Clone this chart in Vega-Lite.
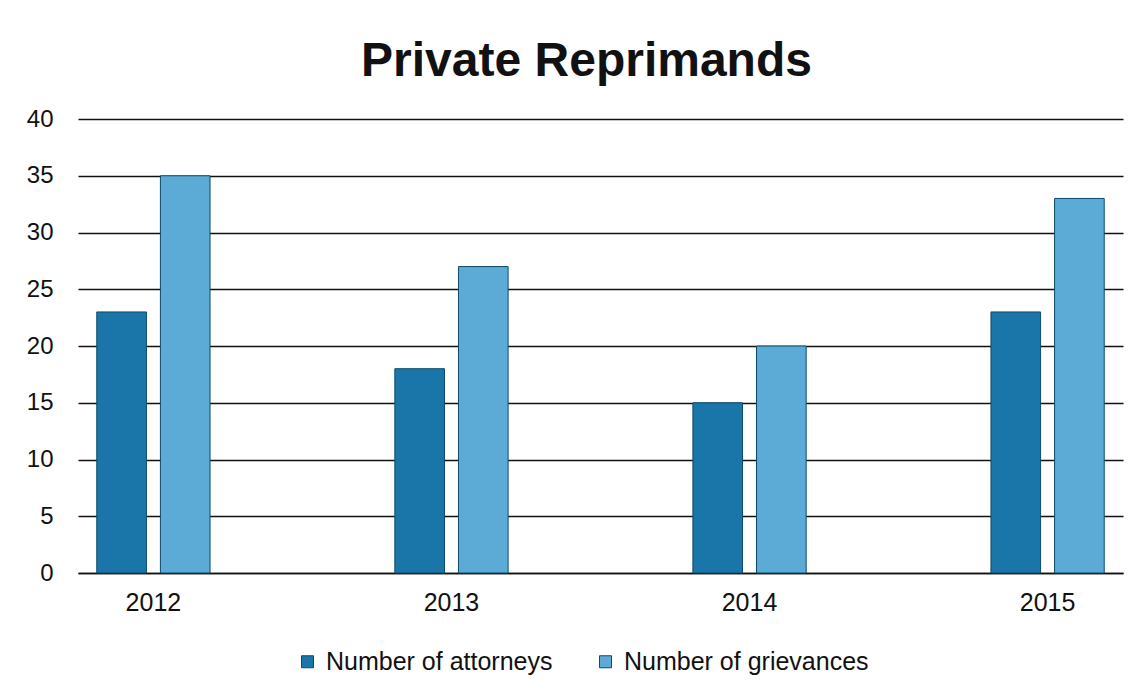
{
  "$schema": "https://vega.github.io/schema/vega-lite/v6.json",
  "width": 1045,
  "height": 454,
  "autosize": {"type": "none"},
  "padding": {"left": 78, "top": 119, "right": 20, "bottom": 123},
  "background": "white",
  "title": {
    "text": "Private Reprimands",
    "font": "Liberation Sans",
    "fontSize": 48,
    "fontWeight": "bold",
    "color": "#111111",
    "anchor": "middle",
    "offset": 21,
    "dx": -14
  },
  "data": {
    "values": [
      {"year": "2012", "series": "Number of attorneys", "value": 23},
      {"year": "2012", "series": "Number of grievances", "value": 35},
      {"year": "2013", "series": "Number of attorneys", "value": 18},
      {"year": "2013", "series": "Number of grievances", "value": 27},
      {"year": "2014", "series": "Number of attorneys", "value": 15},
      {"year": "2014", "series": "Number of grievances", "value": 20},
      {"year": "2015", "series": "Number of attorneys", "value": 23},
      {"year": "2015", "series": "Number of grievances", "value": 33}
    ]
  },
  "mark": {"type": "bar", "stroke": "#0d4a68", "strokeWidth": 1},
  "encoding": {
    "x": {
      "field": "year",
      "type": "nominal",
      "title": null,
      "scale": {"paddingInner": 0.62, "paddingOuter": 0.063},
      "axis": {
        "labelAngle": 0,
        "labelFont": "Liberation Sans",
        "labelFontSize": 25,
        "labelColor": "#111111",
        "labelPadding": 17,
        "ticks": false,
        "domainColor": "#111111",
        "domainWidth": 1.5,
        "grid": false
      }
    },
    "xOffset": {
      "field": "series",
      "type": "nominal",
      "scale": {"paddingInner": 0.22, "paddingOuter": 0}
    },
    "y": {
      "field": "value",
      "type": "quantitative",
      "title": null,
      "scale": {"domain": [0, 40]},
      "axis": {
        "values": [0, 5, 10, 15, 20, 25, 30, 35, 40],
        "labelFont": "Liberation Sans",
        "labelFontSize": 24,
        "labelColor": "#111111",
        "labelPadding": 25,
        "ticks": false,
        "domain": false,
        "grid": true,
        "gridColor": "#111111",
        "gridWidth": 1.5
      }
    },
    "color": {
      "field": "series",
      "type": "nominal",
      "title": null,
      "scale": {
        "domain": ["Number of attorneys", "Number of grievances"],
        "range": ["#1a76a8", "#5caad6"]
      },
      "legend": {
        "orient": "none",
        "direction": "horizontal",
        "legendX": 217,
        "legendY": 530,
        "symbolType": "square",
        "symbolSize": 144,
        "symbolStrokeColor": "#0d4a68",
        "symbolStrokeWidth": 1,
        "labelFont": "Liberation Sans",
        "labelFontSize": 25,
        "labelColor": "#111111",
        "labelOffset": 6,
        "labelLimit": 400,
        "columnPadding": 40
      }
    }
  },
  "config": {"view": {"stroke": null}}
}
